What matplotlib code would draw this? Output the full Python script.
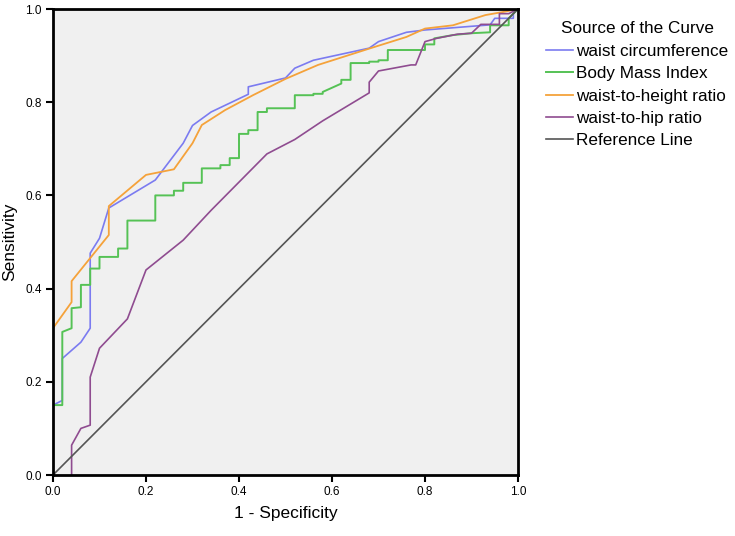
import matplotlib
matplotlib.use("Agg")
import matplotlib.pyplot as plt

plt.rcParams['font.family'] = ['Liberation Sans', 'DejaVu Sans']

# waist circumference
wc_x = [0.00, 0.02, 0.02, 0.06, 0.08, 0.08, 0.10, 0.12, 0.22, 0.28, 0.30, 0.34, 0.42, 0.42, 0.50, 0.52, 0.56, 0.68, 0.70, 0.76, 0.80, 0.94, 0.95, 0.99, 0.99, 1.00]
wc_y = [0.15, 0.16, 0.25, 0.285, 0.315, 0.476, 0.508, 0.573, 0.633, 0.712, 0.75, 0.779, 0.817, 0.833, 0.852, 0.873, 0.89, 0.916, 0.93, 0.95, 0.955, 0.966, 0.98, 0.98, 0.99, 1.00]

# Body Mass Index
bmi_x = [0.00, 0.02, 0.02, 0.04, 0.04, 0.06, 0.06, 0.08, 0.08, 0.10, 0.10, 0.14, 0.14, 0.16, 0.16, 0.22, 0.22,
         0.26, 0.26, 0.28, 0.28, 0.32, 0.32, 0.36, 0.36, 0.38, 0.38, 0.40, 0.40, 0.42, 0.42, 0.44, 0.44,
         0.46, 0.46, 0.52, 0.52, 0.56, 0.56, 0.58, 0.58, 0.62, 0.62, 0.64, 0.64, 0.68, 0.68, 0.70, 0.70,
         0.72, 0.72, 0.80, 0.80, 0.82, 0.82, 0.86, 0.90, 0.94, 0.94, 0.98, 0.98, 1.00]
bmi_y = [0.15, 0.15, 0.307, 0.315, 0.358, 0.36, 0.408, 0.408, 0.443, 0.443, 0.468, 0.468, 0.486, 0.486, 0.546, 0.546, 0.60,
         0.60, 0.61, 0.61, 0.627, 0.627, 0.658, 0.658, 0.665, 0.665, 0.68, 0.68, 0.732, 0.732, 0.74, 0.74, 0.779,
         0.779, 0.787, 0.787, 0.815, 0.815, 0.818, 0.818, 0.822, 0.84, 0.848, 0.848, 0.884, 0.884, 0.887, 0.887, 0.89,
         0.89, 0.912, 0.912, 0.924, 0.924, 0.937, 0.944, 0.948, 0.95, 0.965, 0.965, 0.98, 1.00]

# waist-to-height ratio
wh_x = [0.00, 0.04, 0.04, 0.12, 0.12, 0.20, 0.23, 0.26, 0.30, 0.32, 0.37, 0.43, 0.50, 0.57, 0.68, 0.76, 0.80, 0.86, 0.93, 0.97, 1.00]
wh_y = [0.315, 0.371, 0.416, 0.515, 0.577, 0.644, 0.65, 0.656, 0.712, 0.751, 0.783, 0.815, 0.85, 0.88, 0.915, 0.94, 0.958, 0.965, 0.987, 0.994, 1.00]

# waist-to-hip ratio
whr_x = [0.04, 0.04, 0.06, 0.08, 0.08, 0.10, 0.16, 0.20, 0.28, 0.34, 0.46, 0.52, 0.58, 0.68, 0.68, 0.70, 0.77, 0.78, 0.80, 0.825, 0.87, 0.90, 0.92, 0.96, 0.96, 0.98, 1.00]
whr_y = [0.00, 0.064, 0.10, 0.107, 0.21, 0.272, 0.335, 0.44, 0.504, 0.568, 0.689, 0.72, 0.76, 0.82, 0.843, 0.867, 0.88, 0.88, 0.93, 0.937, 0.946, 0.948, 0.967, 0.967, 0.99, 0.99, 1.00]

ref_x = [0.0, 1.0]
ref_y = [0.0, 1.0]

labels = ["waist circumference", "Body Mass Index", "waist-to-height ratio", "waist-to-hip ratio", "Reference Line"]
colors = ["#7b7bf0", "#55c255", "#f5a23a", "#8f4c90", "#555555"]
ticks = [0.0, 0.2, 0.4, 0.6, 0.8, 1.0]
tick_labels = ["0.0", "0.2", "0.4", "0.6", "0.8", "1.0"]

fig = plt.figure(figsize=(7.35, 5.36), dpi=100)
ax = fig.add_axes([53/735, 61/536, 465/735, 466/536])
ax.set_facecolor("#f0f0f0")

series = [(wc_x, wc_y), (bmi_x, bmi_y), (wh_x, wh_y), (whr_x, whr_y), (ref_x, ref_y)]
lws = [1.2, 1.4, 1.3, 1.2, 1.2]
for (xs, ys), lab, c, lw in zip(series, labels, colors, lws):
    ax.plot(xs, ys, color=c, lw=lw, label=lab)

ax.set_xlim(0, 1)
ax.set_ylim(0, 1)
ax.set_xticks(ticks)
ax.set_xticklabels(tick_labels)
ax.set_yticks(ticks)
ax.set_yticklabels(tick_labels)
ax.tick_params(direction='out', length=5, width=1.5, labelsize=8.5, colors='black', pad=3)
for s in ax.spines.values():
    s.set_linewidth(2)
    s.set_color('black')

ax.set_xlabel("1 - Specificity", fontsize=12.5, labelpad=6)
ax.set_ylabel("Sensitivity", fontsize=12.5, labelpad=6)

leg = ax.legend(loc='upper left', bbox_to_anchor=(534/735, 1 - 9/536), bbox_transform=fig.transFigure,
                frameon=False, fontsize=12.3, title="Source of the Curve", title_fontsize=12.3,
                handlelength=1.6, handletextpad=0.15, labelspacing=0.42, borderpad=0.2)
leg._legend_box.sep = 6

fig.savefig("out.png", dpi=100, facecolor="white")
